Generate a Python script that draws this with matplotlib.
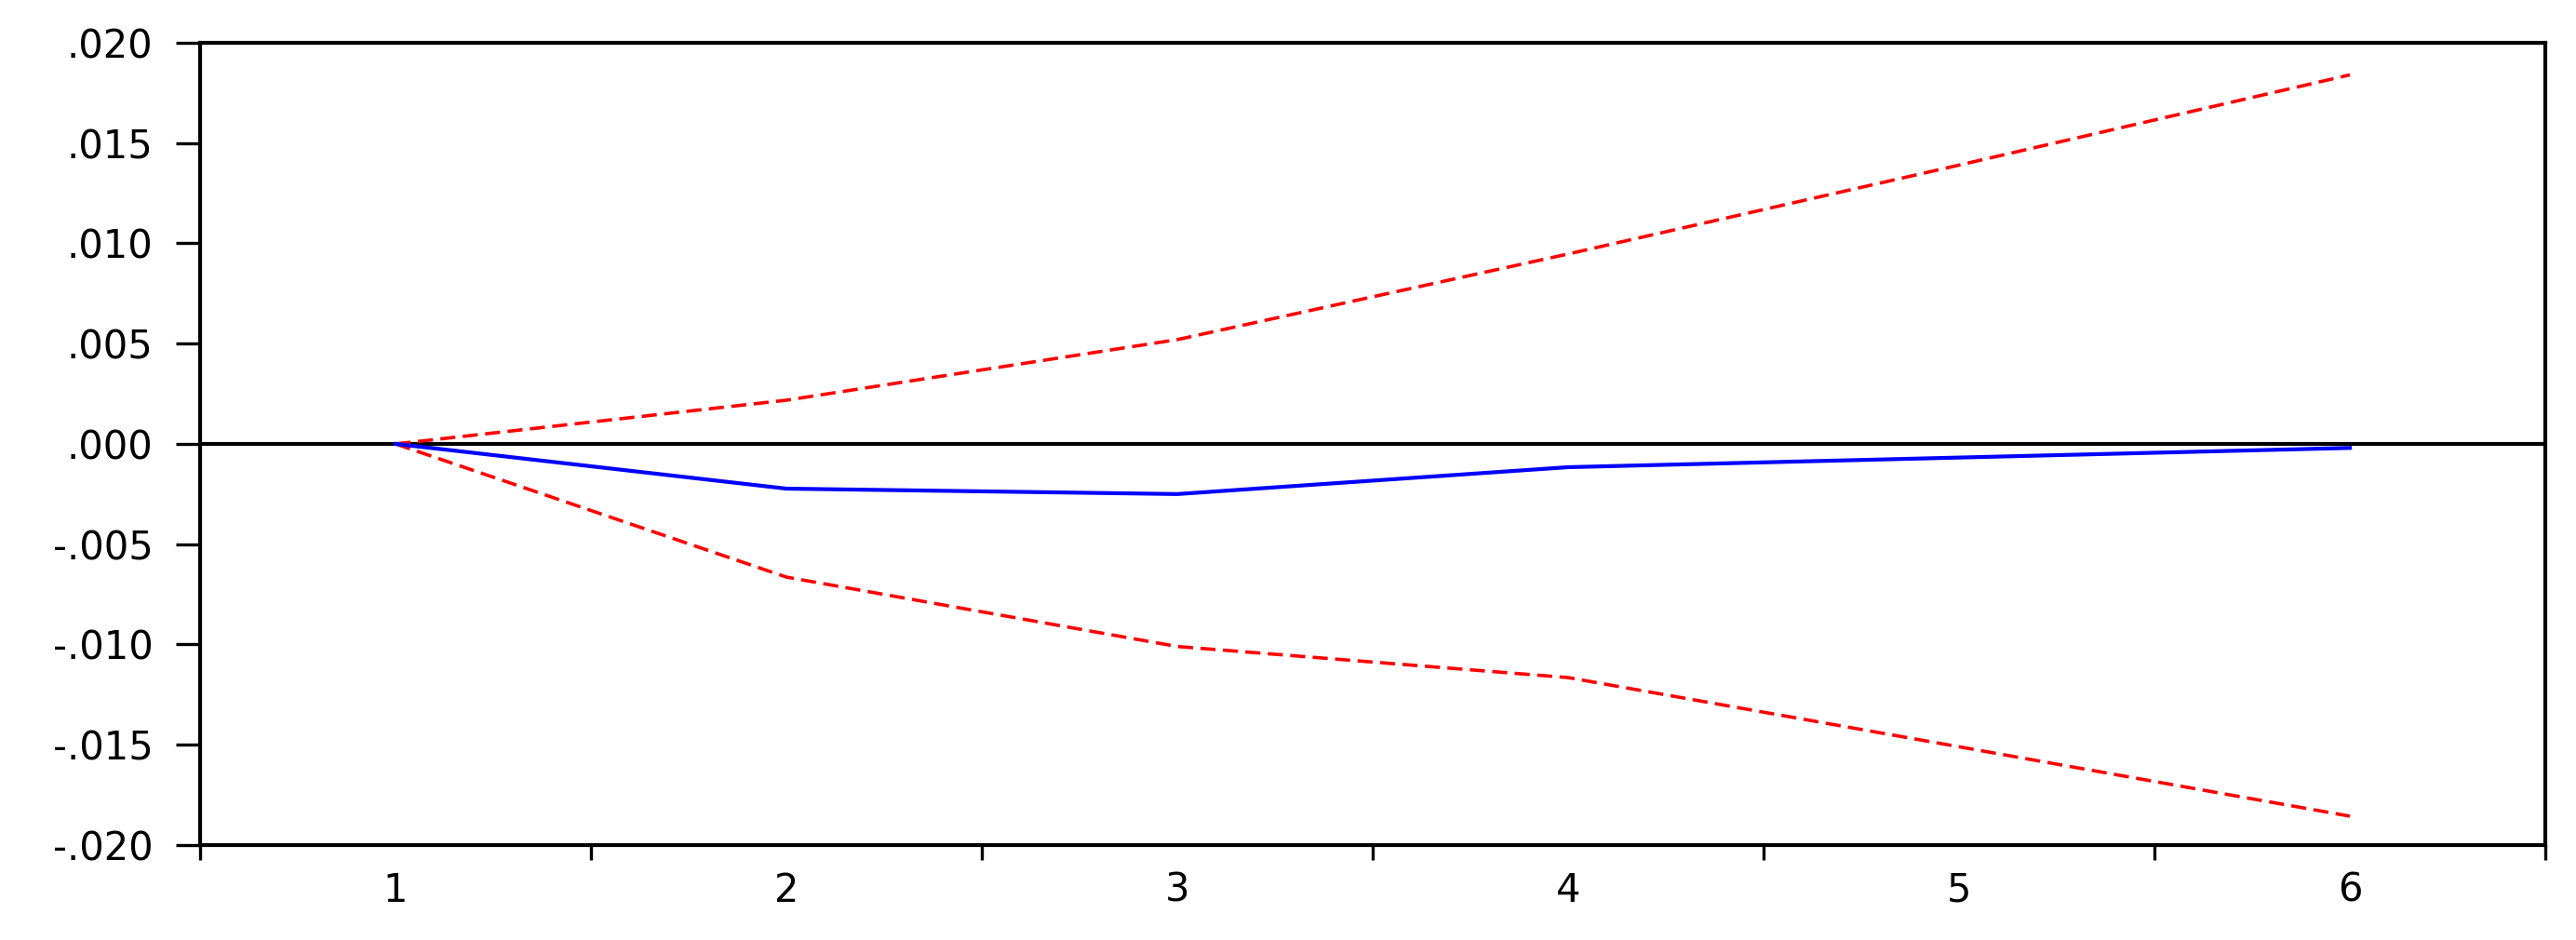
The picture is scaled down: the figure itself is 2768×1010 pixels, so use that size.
import numpy as np
import matplotlib.pyplot as plt

# impulse response, 6 periods
periods = [1, 2, 3, 4, 5, 6]
response = [0.0, -0.00223, -0.0025, -0.00116, -0.00068, -0.0002]
upper = [0.0, 0.00218, 0.0052, 0.00947, 0.0139, 0.0184]
lower = [0.0, -0.00664, -0.0101, -0.01165, -0.0151, -0.01856]

yticks = [0.020, 0.015, 0.010, 0.005, 0.0, -0.005, -0.010, -0.015, -0.020]
ytick_labels = [".020", ".015", ".010", ".005", ".000", "-.005", "-.010", "-.015", "-.020"]
xtick_labels = ["1", "2", "3", "4", "5", "6"]

fig = plt.figure(figsize=(27.68, 10.10), dpi=100)
ax = fig.add_axes([0.0777, 0.101, 0.9104, 0.8535])

ax.axhline(0, color="black", linewidth=3.0, zorder=1)
ax.plot(periods, upper, color="#ff0000", linewidth=2.6, dashes=(4.5, 2.2), zorder=2)
ax.plot(periods, lower, color="#ff0000", linewidth=2.6, dashes=(4.5, 2.2), zorder=2)
ax.plot(periods, response, color="#0000ff", linewidth=3.0, zorder=3)

ax.set_xlim(0.5, 6.5)
ax.set_ylim(-0.02, 0.02)

ax.set_yticks(yticks)
ax.set_yticklabels(ytick_labels)

# ticks on the period boundaries, labels in the middle
ax.set_xticks(np.arange(0.5, 7.0, 1.0))
ax.set_xticklabels([""] * 7)
ax.set_xticks(periods, minor=True)
ax.set_xticklabels(xtick_labels, minor=True)

ax.tick_params(axis="y", which="major", direction="out", length=18.5, width=2.4,
               pad=18, labelsize=30, right=False)
ax.tick_params(axis="x", which="major", direction="out", length=11.5, width=2.4,
               top=False)
ax.tick_params(axis="x", which="minor", length=0, pad=20, labelsize=30, top=False)

for s in ax.spines.values():
    s.set_linewidth(3.0)

fig.savefig("out.png", dpi=100)
